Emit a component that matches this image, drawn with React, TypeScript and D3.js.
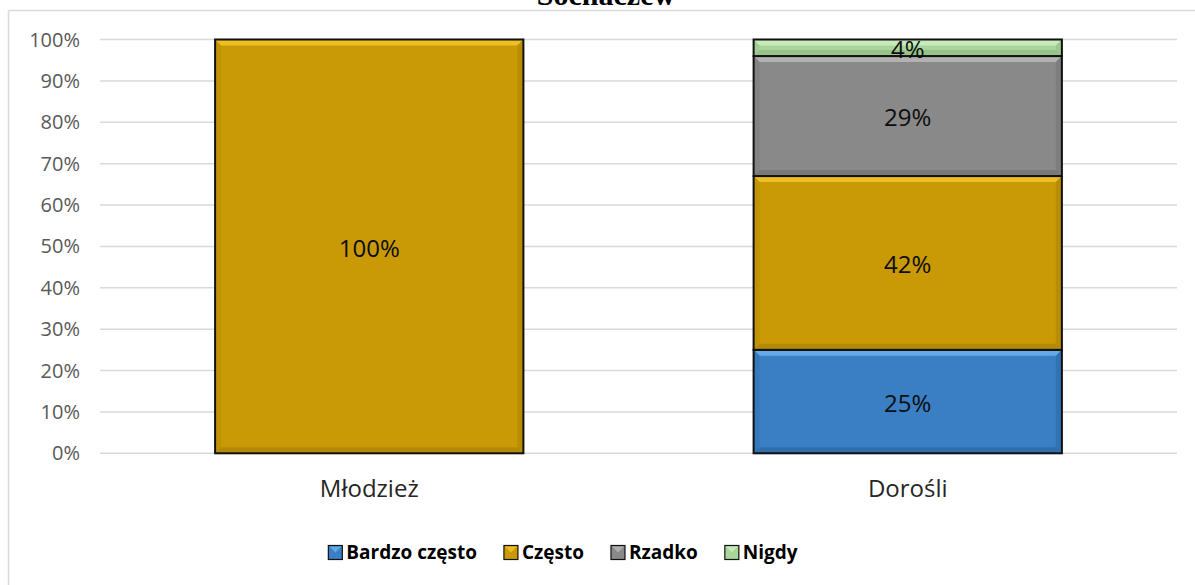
import React, { useEffect } from 'react';
import * as d3 from 'd3';

const categories = ['Młodzież', 'Dorośli'];
const seriesNames = ['Bardzo często', 'Często', 'Rzadko', 'Nigdy'];
const bardzoCzesto = [0, 25];
const czesto = [100, 42];
const rzadko = [0, 29];
const nigdy = [0, 4];
const yTicks = [0, 10, 20, 30, 40, 50, 60, 70, 80, 90, 100];
const title = 'Sochaczew';

const colors = ['#3a7fc4', '#c99a06', '#898989', '#a9d59a'];
const lightColors = ['#6ab2f0', '#f3c629', '#b8b8b8', '#cdeec2'];
const darkColors = ['#2c649c', '#a57e05', '#6e6e6e', '#8cb87f'];

const W = 1195;
const H = 585;
const plot = { left: 100, right: 1177, top: 39.5, bottom: 453.3 };

const measure = (() => {
  const ctx = document.createElement('canvas').getContext('2d')!;
  return (text: string, font: string) => {
    ctx.font = font;
    return ctx.measureText(text).width;
  };
})();

type Seg = { key: number; cat: string; y0: number; y1: number; v: number };

const Bevel: React.FC<{ x: number; y: number; w: number; h: number; i: number }> = ({ x, y, w, h, i }) => {
  const b = Math.min(6, h / 2.5);
  return (
    <g>
      <rect x={x} y={y} width={w} height={h} fill={colors[i]} />
      <polygon points={`${x},${y} ${x + w},${y} ${x + w - b},${y + b} ${x + b},${y + b}`} fill={lightColors[i]} opacity={0.85} />
      <polygon points={`${x},${y + h} ${x + w},${y + h} ${x + w - b},${y + h - b} ${x + b},${y + h - b}`} fill={darkColors[i]} opacity={0.6} />
      <polygon points={`${x},${y} ${x + b},${y + b} ${x + b},${y + h - b} ${x},${y + h}`} fill={darkColors[i]} opacity={0.25} />
      <polygon points={`${x + w},${y} ${x + w - b},${y + b} ${x + w - b},${y + h - b} ${x + w},${y + h}`} fill={darkColors[i]} opacity={0.45} />
      <rect x={x} y={y} width={w} height={h} fill="none" stroke="#111" strokeWidth={2} />
    </g>
  );
};

export default function App() {
  useEffect(() => {
    document.body.style.margin = '0';
  }, []);

  const x = d3.scaleBand<string>()
    .domain(categories)
    .range([plot.left, plot.right])
    .paddingInner(0.4275)
    .paddingOuter(0.21375);
  const y = d3.scaleLinear().domain([0, 100]).range([plot.bottom, plot.top]);

  const rows = categories.map((c, j) => ({
    cat: c,
    s0: bardzoCzesto[j],
    s1: czesto[j],
    s2: rzadko[j],
    s3: nigdy[j],
  }));
  const stacked = d3.stack<any>().keys(['s0', 's1', 's2', 's3'])(rows);
  const segs: Seg[] = [];
  stacked.forEach((layer, i) => {
    layer.forEach((d) => {
      const v = d[1] - d[0];
      if (v > 0) segs.push({ key: i, cat: d.data.cat, y0: d[0], y1: d[1], v });
    });
  });

  // legend layout
  const legendFont = 'bold 19px "Open Sans"';
  const sq = 14;
  const gapSqText = 4;
  const gapItems = 27;
  const itemWidths = seriesNames.map((n) => sq + gapSqText + measure(n, legendFont));
  const totalW = d3.sum(itemWidths) + gapItems * (seriesNames.length - 1);
  const legendCenter = 563;
  let lx = legendCenter - totalW / 2;
  const legendItems = seriesNames.map((n, i) => {
    const it = { name: n, x: lx, i };
    lx += itemWidths[i] + gapItems;
    return it;
  });
  const legendY = 552.5;

  return (
    <svg width={W} height={H} style={{ display: 'block', background: '#fff' }}>
      <text x={606} y={4.5} textAnchor="middle" fontFamily="Liberation Serif" fontWeight="bold" fontSize={30} fill="#000">
        {title}
      </text>
      <line x1={8.5} x2={W} y1={10.5} y2={10.5} stroke="#d9d9d9" strokeWidth={1.5} />
      <line x1={8.5} x2={8.5} y1={10.5} y2={H} stroke="#d9d9d9" strokeWidth={1.5} />

      {yTicks.map((t) => (
        <g key={t}>
          <line x1={plot.left} x2={plot.right} y1={y(t)} y2={y(t)} stroke="#d9d9d9" strokeWidth={1.5} />
          <text x={80} y={y(t)} dy="0.35em" textAnchor="end" fontFamily="Open Sans" fontSize={20} fill="#595959">
            {t}%
          </text>
        </g>
      ))}

      {segs.map((s, k) => {
        const bx = x(s.cat)!;
        const by = y(s.y1);
        const bh = y(s.y0) - y(s.y1);
        return <Bevel key={k} x={bx} y={by} w={x.bandwidth()} h={bh} i={s.key} />;
      })}

      {segs.map((s, k) => (
        <text
          key={'l' + k}
          x={x(s.cat)! + x.bandwidth() / 2}
          y={(y(s.y0) + y(s.y1)) / 2}
          dy="0.43em"
          textAnchor="middle"
          fontFamily="Open Sans"
          fontSize={24}
          fill="#0d0d0d"
        >
          {s.v}%
        </text>
      ))}

      {categories.map((c) => (
        <text key={c} x={x(c)! + x.bandwidth() / 2} y={y(0) + 44} textAnchor="middle" fontFamily="Open Sans" fontSize={24} fill="#262626">
          {c}
        </text>
      ))}

      {legendItems.map((it) => (
        <g key={it.name}>
          <rect x={it.x} y={legendY - sq / 2} width={sq} height={sq} fill={colors[it.i]} stroke="#111" strokeWidth={1.2} />
          <polygon
            points={`${it.x + 1},${legendY - sq / 2 + 1} ${it.x + sq - 1},${legendY - sq / 2 + 1} ${it.x + sq / 2},${legendY}`}
            fill={lightColors[it.i]}
            opacity={0.8}
          />
          <text x={it.x + sq + gapSqText} y={legendY} dy="0.35em" fontFamily="Open Sans" fontWeight="bold" fontSize={19} fill="#000">
            {it.name}
          </text>
        </g>
      ))}
    </svg>
  );
}
